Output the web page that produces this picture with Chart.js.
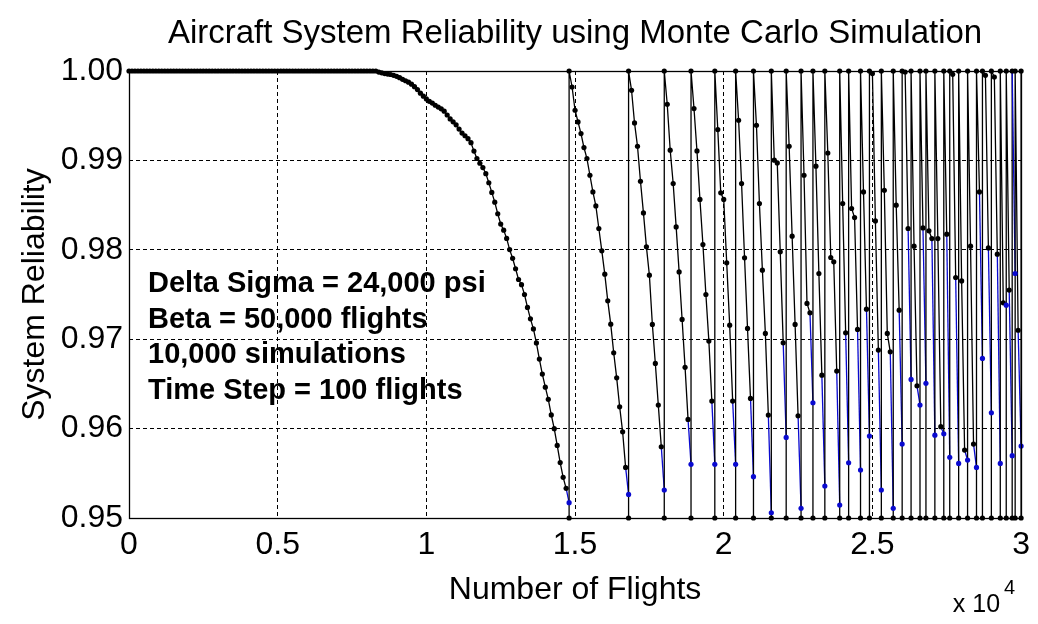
<!DOCTYPE html>
<html>
<head>
<meta charset="utf-8">
<title>Aircraft System Reliability using Monte Carlo Simulation</title>
<script src="https://cdn.jsdelivr.net/npm/chart.js@4.4.1/dist/chart.umd.min.js"></script>
<style>
  html, body { margin: 0; padding: 0; background: #fff; }
  #wrap { width: 1038px; height: 624px; }
</style>
</head>
<body>
<div id="wrap"><canvas id="reliabilityChart" width="1038" height="624"></canvas></div>
<script>
// Flights between two recorded points
const timeStep = 100;
const fullReliability = 1.0;
const repairThreshold = 0.95;

const xTickValues = [0, 5000, 10000, 15000, 20000, 25000, 30000];
const xTickLabels = ['0', '0.5', '1', '1.5', '2', '2.5', '3'];
const yTickValues = [0.95, 0.96, 0.97, 0.98, 0.99, 1.00];
const yTickLabels = ['0.95', '0.96', '0.97', '0.98', '0.99', '1.00'];

const annotationLines = [
    'Delta Sigma = 24,000 psi',
    'Beta = 50,000 flights',
    '10,000 simulations',
    'Time Step = 100 flights'
];

// Reliability after each time step, one array per inspection cycle.
// The last value of a cycle is the one recorded at the repair.
const cycle01 = [
    1, 1, 1, 1, 1, 1, 1, 1, 1, 1, 1, 1, 1, 1, 1, 1, 1, 1, 1, 1,
    1, 1, 1, 1, 1, 1, 1, 1, 1, 1, 1, 1, 1, 1, 1, 1, 1, 1, 1, 1,
    1, 1, 1, 1, 1, 1, 1, 1, 1, 1, 1, 1, 1, 1, 1, 1, 1, 1, 1, 1,
    1, 1, 1, 1, 1, 1, 1, 1, 1, 1, 1, 1, 1, 1, 1, 1, 1, 1, 1, 1,
    1, 1, 1,
    0.99988, 0.99980, 0.99971, 0.99966, 0.99961, 0.99952, 0.99940, 0.99925, 0.99907, 0.99891,
    0.99875, 0.99853, 0.99825, 0.99792, 0.99752, 0.99718, 0.99688, 0.99661, 0.99641, 0.99617,
    0.99596, 0.99577, 0.99551, 0.99508, 0.99464, 0.99432, 0.99398, 0.99350, 0.99306, 0.99276,
    0.99243, 0.99198, 0.99104, 0.99021, 0.98968, 0.98920, 0.98852, 0.98750, 0.98642, 0.98533,
    0.98403, 0.98288, 0.98220, 0.98127, 0.98002, 0.97905, 0.97788, 0.97668, 0.97610, 0.97500,
    0.97355, 0.97228, 0.97115, 0.96958, 0.96778, 0.96610, 0.96463, 0.96328, 0.96153, 0.95999,
    0.95812, 0.95620, 0.95455, 0.95332, 0.95171
];
const cycle02 = [
    0.99821, 0.99561, 0.99430, 0.99300, 0.99144, 0.99021, 0.98834, 0.98647, 0.98491, 0.98238,
    0.97988, 0.97727, 0.97429, 0.97168, 0.96848, 0.96568, 0.96244, 0.95964, 0.95566, 0.95264
];
const cycle03 = [0.99784, 0.99419, 0.99158, 0.98767, 0.98413, 0.98033, 0.97716, 0.97165, 0.96729, 0.96263, 0.95797, 0.95313];
const cycle04 = [0.99628, 0.99114, 0.98741, 0.98256, 0.97753, 0.97221, 0.96685, 0.96103, 0.95600];
const cycle05 = [0.99580, 0.99106, 0.98563, 0.98059, 0.97500, 0.96979, 0.96308, 0.95600];
const cycle06 = [0.99345, 0.98637, 0.98563, 0.97854, 0.97157, 0.96308, 0.95600];
const cycle07 = [0.99449, 0.98741, 0.97910, 0.97120, 0.96338, 0.95462];
const cycle08 = [0.99393, 0.98518, 0.97772, 0.97065, 0.96151, 0.95059];
const cycle09 = [0.99002, 0.98972, 0.97977, 0.96959, 0.95901];
const cycle10 = [0.99158, 0.98152, 0.97165, 0.96143, 0.95108];
const cycle11 = [0.98834, 0.97400, 0.97295, 0.96289];
const cycle12 = [0.98935, 0.97735, 0.96598, 0.95358];
const cycle13 = [0.99083, 0.97914, 0.97865, 0.96643, 0.95145];
const cycle14 = [0.98518, 0.97071, 0.95618];
const cycle15 = [0.98462, 0.98361, 0.97109, 0.95537];
const cycle16 = [0.98647, 0.97336, 0.95916];
const cycle17 = [0.99971, 0.98323, 0.96878, 0.95313];
const cycle18 = [0.98666, 0.97065, 0.96859, 0.95108];
const cycle19 = [0.98499, 0.97325, 0.95827];
const cycle20 = [0.99989, 0.98238, 0.96550];
const cycle21 = [0.98040, 0.96479, 0.96263];
const cycle22 = [0.98245, 0.96506];
const cycle23 = [0.98212, 0.98126, 0.95927];
const cycle24 = [0.98126, 0.96021, 0.95941];
const cycle25 = [0.98175, 0.95679];
const cycle26 = [0.99963, 0.97690, 0.95611];
const cycle27 = [0.97652, 0.95760, 0.95648];
const cycle28 = [0.98040, 0.95827, 0.95566];
const cycle29 = [0.98647, 0.96785];
const cycle30 = [0.99952, 0.98021, 0.96177];
const cycle31 = [0.99933, 0.97951, 0.95611];
const cycle32 = [0.97407, 0.97381];
const cycle33 = [0.97549, 0.95697];
const cycle34 = [0.97735];
const cycle35 = [0.97100, 0.95805];

const cycles = [
    cycle01, cycle02, cycle03, cycle04, cycle05, cycle06, cycle07, cycle08, cycle09, cycle10,
    cycle11, cycle12, cycle13, cycle14, cycle15, cycle16, cycle17, cycle18, cycle19, cycle20,
    cycle21, cycle22, cycle23, cycle24, cycle25, cycle26, cycle27, cycle28, cycle29, cycle30,
    cycle31, cycle32, cycle33, cycle34, cycle35
];

const FONT = "'Liberation Sans', Arial, Helvetica, sans-serif";
const BLUE = '#0a0ad0';

// walk the cycles: decline, drop to threshold, back to full reliability
const points = [{ x: 0, y: fullReliability }];
const repairIndex = new Set();
let flight = 0;
cycles.forEach(values => {
    values.forEach(v => {
        flight += timeStep;
        points.push({ x: flight, y: v });
    });
    repairIndex.add(points.length - 1);
    points.push({ x: flight, y: repairThreshold });
    points.push({ x: flight, y: fullReliability });
});

const frameAndNotes = {
    id: 'frameAndNotes',
    afterDatasetsDraw(chart) {
        const { ctx, chartArea: a } = chart;
        const l = Math.round(a.left) + 0.5, t = Math.round(a.top) + 0.5;
        const r = Math.round(a.right) + 0.5, b = Math.round(a.bottom) + 0.5;
        ctx.save();
        ctx.strokeStyle = '#000';
        ctx.lineWidth = 1.3;
        ctx.strokeRect(l, t, r - l, b - t);
        ctx.restore();
    },
    afterDraw(chart) {
        const { ctx, chartArea: a } = chart;
        ctx.save();
        ctx.fillStyle = '#000';
        ctx.textBaseline = 'alphabetic';
        ctx.textAlign = 'left';
        ctx.font = 'bold 29px ' + FONT;
        annotationLines.forEach((line, i) => {
            ctx.fillText(line, a.left + 19, a.top + 221 + i * 35.5);
        });
        // exponent of the x axis
        ctx.textAlign = 'right';
        ctx.font = '25px ' + FONT;
        ctx.fillText('x 10', a.right - 21, 612);
        ctx.textAlign = 'left';
        ctx.font = '20px ' + FONT;
        ctx.fillText('4', a.right - 17, 594);
        ctx.restore();
    }
};

const edgeAware = (values) => (ctx) => {
    const v = ctx.tick ? ctx.tick.value : null;
    return (v === values[0] || v === values[values.length - 1]) ? 'rgba(0,0,0,0)' : '#000';
};

new Chart(document.getElementById('reliabilityChart'), {
    type: 'scatter',
    data: {
        datasets: [{
            label: 'System Reliability',
            data: points,
            showLine: true,
            tension: 0,
            borderColor: '#000',
            borderWidth: 1.3,
            pointRadius: 2.6,
            pointHoverRadius: 2.6,
            pointBorderWidth: 0,
            pointBackgroundColor: ctx => repairIndex.has(ctx.dataIndex) ? BLUE : '#000',
            segment: {
                borderColor: ctx => repairIndex.has(ctx.p1DataIndex) ? BLUE : undefined
            },
            clip: false
        }]
    },
    options: {
        responsive: false,
        animation: false,
        devicePixelRatio: 1,
        events: [],
        layout: { padding: { left: 0, right: 14, top: 0, bottom: 0 } },
        plugins: {
            legend: { display: false },
            tooltip: { enabled: false },
            title: {
                display: true,
                fullSize: false,
                text: 'Aircraft System Reliability using Monte Carlo Simulation',
                color: '#000',
                font: { family: FONT, size: 33, weight: 'normal', lineHeight: 1.2 },
                padding: { top: 14, bottom: 17.4 }
            }
        },
        scales: {
            x: {
                type: 'linear',
                min: 0,
                max: 30000,
                afterBuildTicks: scale => { scale.ticks = xTickValues.map(v => ({ value: v })); },
                afterFit: scale => { scale.height = 106; },
                ticks: {
                    color: '#000',
                    padding: 8,
                    maxRotation: 0,
                    font: { family: FONT, size: 32 },
                    callback: (v, i) => xTickLabels[i]
                },
                grid: { color: edgeAware(xTickValues), lineWidth: 1, drawTicks: false },
                border: { display: false, dash: [4, 3] },
                title: {
                    display: true,
                    text: 'Number of Flights',
                    color: '#000',
                    font: { family: FONT, size: 32, lineHeight: 1.2 },
                    padding: { top: 0, bottom: 15 }
                }
            },
            y: {
                type: 'linear',
                min: 0.95,
                max: 1.0,
                afterBuildTicks: scale => { scale.ticks = yTickValues.map(v => ({ value: v })); },
                afterFit: scale => { scale.width = 129; },
                ticks: {
                    color: '#000',
                    padding: 6,
                    font: { family: FONT, size: 32 },
                    callback: (v, i) => yTickLabels[i]
                },
                grid: { color: edgeAware(yTickValues), lineWidth: 1, drawTicks: false },
                border: { display: false, dash: [4, 3] },
                title: {
                    display: true,
                    text: 'System Reliability',
                    color: '#000',
                    font: { family: FONT, size: 32, lineHeight: 1.2 },
                    padding: { top: 16, bottom: 0 }
                }
            }
        }
    },
    plugins: [frameAndNotes]
});
</script>
</body>
</html>
